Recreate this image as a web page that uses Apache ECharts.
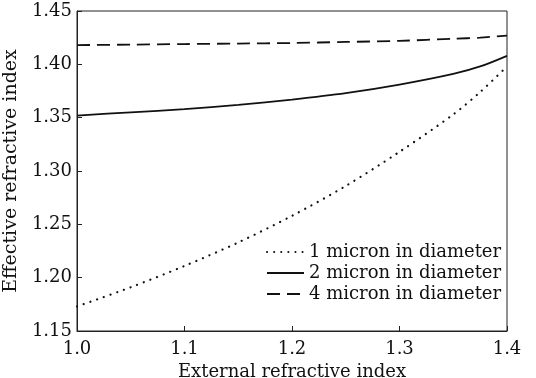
<!DOCTYPE html>
<html>
<head>
<meta charset="utf-8">
<script src="https://cdn.jsdelivr.net/npm/echarts@6/dist/echarts.min.js"></script>
<style>
html,body{margin:0;padding:0;background:#fff;}
#c{width:536px;height:378px;}
</style>
</head>
<body>
<div id="c"></div>
<script>
var xValues = [1.00, 1.05, 1.10, 1.15, 1.20, 1.25, 1.30, 1.35, 1.375, 1.40];
var d1 = [1.173, 1.191, 1.211, 1.233, 1.258, 1.286, 1.318, 1.353, 1.374, 1.398];
var d2 = [1.352, 1.355, 1.358, 1.362, 1.367, 1.373, 1.381, 1.391, 1.398, 1.408];
var d4 = [1.418, 1.4185, 1.419, 1.4195, 1.420, 1.421, 1.422, 1.424, 1.425, 1.427];
var seriesNames = ['1 micron in diameter', '2 micron in diameter', '4 micron in diameter'];
var xTicks = [1.0, 1.1, 1.2, 1.3, 1.4];
var yTicks = [1.15, 1.20, 1.25, 1.30, 1.35, 1.40, 1.45];

function pairs(ys){ return xValues.map(function(x,i){ return [x, ys[i]]; }); }
var font = 'DejaVu Serif';
var chart = echarts.init(document.getElementById('c'), null, {renderer:'canvas'});
chart.setOption({
  animation: false,
  backgroundColor: '#fff',
  grid: {left: 77, right: 29, top: 11, bottom: 47, show: true, borderColor: '#222', borderWidth: 1,
         backgroundColor: 'transparent', containLabel: false, outerBoundsMode: 'none'},
  legend: {
    orient: 'vertical', left: 261, top: 238, itemWidth: 37, itemHeight: 10, itemGap: 3,
    data: seriesNames,
    itemStyle: {opacity: 0},
    textStyle: {fontFamily: font, fontSize: 18, color: '#111'}
  },
  xAxis: {
    type: 'value', min: xTicks[0], max: xTicks[xTicks.length-1], interval: 0.1,
    name: 'External refractive index', nameLocation: 'middle', nameGap: 29,
    nameTextStyle: {fontFamily: font, fontSize: 18, color: '#111'},
    axisLine: {show: true, lineStyle: {color: '#222', width: 1}},
    axisTick: {show: true, inside: true, length: 5, lineStyle: {color: '#222'}},
    axisLabel: {fontFamily: font, fontSize: 18, color: '#111', margin: 9,
      formatter: function(v){ return v.toFixed(1); }},
    splitLine: {show: false}
  },
  yAxis: {
    type: 'value', min: yTicks[0], max: yTicks[yTicks.length-1], interval: 0.05,
    name: 'Effective refractive index', nameLocation: 'middle', nameGap: 46,
    nameTextStyle: {fontFamily: font, fontSize: 19, color: '#111'},
    axisLine: {show: true, lineStyle: {color: '#222', width: 1}},
    axisTick: {show: true, inside: true, length: 5, lineStyle: {color: '#222'}},
    axisLabel: {fontFamily: font, fontSize: 18, color: '#111', margin: 5,
      formatter: function(v){ return v.toFixed(2); }},
    splitLine: {show: false}
  },
  series: [
    {name: seriesNames[0], type: 'line', data: pairs(d1), smooth: 0.3, symbol: 'none',
     lineStyle: {color: '#111', width: 2.2, type: [0.1, 7], cap: 'round'}, itemStyle: {color: '#111'}},
    {name: seriesNames[1], type: 'line', data: pairs(d2), smooth: 0.3, symbol: 'none',
     lineStyle: {color: '#111', width: 1.8, type: 'solid'}, itemStyle: {color: '#111'}},
    {name: seriesNames[2], type: 'line', data: pairs(d4), smooth: 0.3, symbol: 'none',
     lineStyle: {color: '#111', width: 1.8, type: [13, 7]}, itemStyle: {color: '#111'}}
  ]
});
</script>
</body>
</html>
